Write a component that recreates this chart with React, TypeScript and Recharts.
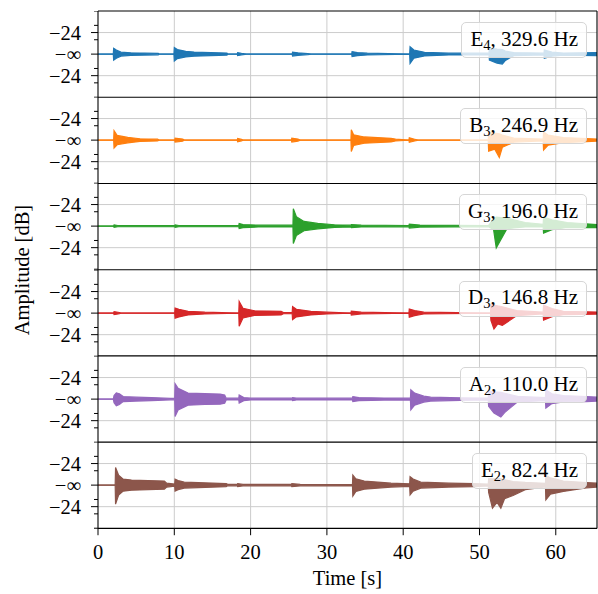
import React from 'react';
import { AreaChart, Area, XAxis, YAxis, CartesianGrid } from 'recharts';

// each point: [time s, upper envelope dB, lower envelope dB]
type Pt = [number, number, number];

const E4: Pt[] = [
  [0, -48, -48], [2.0, -48, -48], [2.05, -41.6, -41.3], [2.4, -43.5, -43.5], [3.0, -45.8, -45.8],
  [4.3, -46.6, -46.6], [7.9, -47.2, -47.2], [8.0, -48, -48], [9.95, -48, -48], [10.0, -40.8, -40.3],
  [10.4, -43, -43], [11.5, -44.9, -44.9], [12.6, -45.7, -45.7], [16.9, -46.9, -46.9], [17.0, -48, -48],
  [18.25, -48, -48], [18.3, -46.3, -46.3], [18.8, -47.2, -47.2], [19.5, -48, -48], [25.45, -48, -48],
  [25.5, -45.8, -45.8], [26.2, -46.6, -46.6], [27.5, -47.5, -47.5], [28, -48, -48], [33.25, -48, -48],
  [33.3, -45.2, -45.2], [34.0, -46.3, -46.3], [35.3, -47, -47], [40.85, -48, -48], [40.9, -39.9, -37.6],
  [41.4, -43.5, -43.5], [42.8, -46, -46], [46, -47, -47], [51.25, -47, -47], [51.3, -41.3, -41.3],
  [52.3, -42.4, -38.0], [53.0, -43, -36.9], [53.4, -44.7, -41], [54.5, -46.3, -46.3], [58.45, -47, -47],
  [58.5, -43.5, -43.5], [59.5, -45.8, -45.8], [61, -46.9, -46.9], [65.4, -46.3, -46.3],
];

const B3: Pt[] = [
  [0, -48, -48], [2.05, -48, -48], [2.1, -37.6, -39.1], [2.5, -42.8, -42.8], [3.9, -45, -45],
  [5.5, -46.5, -46.5], [7.8, -47, -47], [8, -48, -48], [10.05, -48, -48], [10.1, -45.8, -45.8],
  [11.1, -46.9, -46.9], [11.3, -48, -48], [18.25, -48, -48], [18.3, -46.1, -46.1], [18.8, -47.2, -47.2],
  [19, -48, -48], [25.35, -48, -48], [25.4, -45.8, -45.8], [26.2, -46.9, -46.9], [26.5, -48, -48],
  [33.15, -48, -48], [33.2, -36.5, -35.4], [33.5, -42, -42], [34.9, -44.5, -44.5], [38.4, -46, -46],
  [39, -47, -47], [40.75, -48, -48], [40.8, -45.5, -45.5], [41.5, -47, -47], [42, -48, -48],
  [51.15, -48, -48], [51.2, -39.1, -35.7], [52.0, -40.2, -38], [52.6, -41, -28.7], [53.0, -42.4, -40],
  [54.5, -45.8, -45.8], [58.35, -47, -47], [58.4, -39.1, -36.9], [59, -42.4, -42.4], [61, -45.2, -45.2],
  [64, -46.3, -46.3], [65.4, -46.9, -46.9],
];

const G3: Pt[] = [
  [0, -48, -48], [2.05, -48, -48], [2.1, -46.6, -46.6], [2.6, -47.3, -47.3], [10.05, -47.3, -47.3],
  [10.1, -46.6, -46.6], [10.6, -47.3, -47.3], [18.45, -47.3, -47.3], [18.5, -45.2, -45.2], [19.0, -46.3, -46.3],
  [21, -47, -47], [25.55, -47, -47], [25.6, -28.7, -28.7], [26.0, -37.5, -37.5], [27.0, -42.8, -42.8],
  [28.8, -45, -45], [31.0, -46.5, -46.5], [33.15, -47, -47], [33.2, -46.3, -46.3], [34.5, -47, -47],
  [40.75, -47.3, -47.3], [40.8, -45.8, -45.8], [42.2, -46.9, -46.9], [51.2, -47.3, -47.3], [51.85, -40, -44],
  [52.2, -38, -23.8], [53.6, -39, -45], [54.5, -41, -46], [56, -44, -47], [58.35, -46, -47],
  [58.4, -38, -40.2], [59.5, -41, -44], [61.5, -44, -46.5], [65.4, -46.3, -46.3],
];

const D3: Pt[] = [
  [0, -48, -48], [2.05, -48, -48], [2.1, -46.3, -46.3], [2.8, -47.3, -47.3], [3, -48, -48],
  [10.05, -48, -48], [10.1, -42.4, -42.4], [10.6, -43.8, -43.8], [11.8, -46, -46], [14, -47, -47],
  [18.45, -48, -48], [18.5, -35, -33.5], [19.0, -42.6, -42.6], [20.5, -45.4, -45.4], [24.0, -46, -46],
  [24.3, -47.3, -47.3], [25.45, -47.3, -47.3], [25.5, -40.8, -40.8], [26.0, -43.8, -43.8], [27.9, -46, -46],
  [30, -47, -47], [33.15, -48, -48], [33.2, -45.8, -45.8], [34.5, -47, -47], [40.75, -48, -48],
  [40.8, -43.5, -43.5], [41.5, -45.2, -45.2], [42.7, -47, -47], [51.45, -48, -48], [51.5, -38, -40],
  [51.9, -39, -30.2], [52.4, -40, -36], [53.0, -41, -34.3], [54.9, -45.2, -45.2], [58.35, -47, -47],
  [58.4, -39.1, -40.2], [59.5, -43, -44], [61, -46, -46.3], [65.4, -46.9, -46.9],
];

const A2: Pt[] = [
  [0, -48, -48], [2.0, -48, -48], [2.1, -44, -44], [2.4, -41, -40.5], [2.8, -42, -42],
  [3.3, -45.2, -45.2], [5, -45.8, -45.8], [7, -46.3, -46.3], [9.5, -47.2, -47.2], [10.05, -47.2, -47.2],
  [10.1, -30.9, -28.7], [10.5, -36, -36], [11.8, -41.3, -41.3], [14, -42, -42], [16.0, -42.4, -42.4],
  [16.6, -43.5, -43.5], [16.8, -47, -47], [18.45, -47, -47], [18.5, -43.5, -43.5], [19.1, -46.3, -46.3],
  [20, -47, -47], [25.45, -47, -47], [25.5, -46.3, -46.3], [26, -47, -47], [33.35, -47, -47],
  [33.4, -45.2, -45.2], [34.2, -46.3, -46.3], [37.5, -46.9, -46.9], [40.95, -47, -47], [41.0, -37.6, -36.1],
  [41.5, -41.3, -41.3], [42.7, -44.7, -44.7], [43.6, -45.8, -45.8], [47.5, -46.6, -46.6], [51.15, -47, -47],
  [51.2, -39, -40], [51.9, -40, -32.4], [52.8, -40.5, -28], [53.3, -41.5, -33], [54.0, -43, -38],
  [55, -45, -45], [58.65, -46.3, -46.3], [58.7, -37.6, -38], [59.5, -42, -43], [61, -44, -45],
  [64, -45.2, -45.2], [65.4, -45.8, -45.8],
];

const E2: Pt[] = [
  [0, -48, -48], [2.25, -48, -48], [2.3, -28.3, -26.8], [2.7, -37, -37], [3.3, -41.3, -41.3],
  [4.4, -42.4, -42.4], [8.7, -43.5, -43.5], [9, -45.8, -45.8], [10.05, -46.9, -46.9], [10.1, -41.3, -41.3],
  [10.5, -43, -43], [11.3, -44.7, -44.7], [16.8, -46.3, -46.3], [17, -47.2, -47.2], [18.25, -47.2, -47.2],
  [18.3, -46.3, -46.3], [19, -47.2, -47.2], [25.35, -47.2, -47.2], [25.4, -46.3, -46.3], [26.5, -47.2, -47.2],
  [33.35, -47.5, -47.5], [33.4, -36.9, -35.7], [33.8, -41, -41], [34.9, -43.5, -43.5], [38.4, -45.8, -45.8],
  [40.85, -46.6, -46.6], [40.9, -38.7, -37.2], [41.3, -41.3, -41.3], [42.3, -44.7, -44.7], [46, -45.8, -45.8],
  [49.3, -46.3, -46.3], [51.15, -47, -47], [51.2, -41, -40], [51.7, -41, -22.4], [52.3, -41, -28.7],
  [52.8, -41, -22.4], [53.3, -42, -33], [54.4, -44, -36.5], [56, -45, -43], [58.65, -46, -46],
  [58.7, -37, -31.6], [59.3, -40, -38], [61, -43.5, -41], [64, -45.2, -45], [65.4, -45.8, -45.8],
];

const strings = [
  { note: 'E', octave: '4', freq: '329.6', color: '#1f77b4', pts: E4 },
  { note: 'B', octave: '3', freq: '246.9', color: '#ff7f0e', pts: B3 },
  { note: 'G', octave: '3', freq: '196.0', color: '#2ca02c', pts: G3 },
  { note: 'D', octave: '3', freq: '146.8', color: '#d62728', pts: D3 },
  { note: 'A', octave: '2', freq: '110.0', color: '#9467bd', pts: A2 },
  { note: 'E', octave: '2', freq: '82.4', color: '#8c564b', pts: E2 },
];

const xTicks = [0, 10, 20, 30, 40, 50, 60];
const X_MAX = 65.4;
const FLOOR_DB = -48; // centre of each panel is -inf dB
const yMajor = [-0.5, 0, 0.5];
const yMajorLabels = ['−24', '−∞', '−24'];
const yMinor = [-1, -2 / 3, -1 / 3, 1 / 3, 2 / 3, 1];

const FONT = '"Liberation Serif", "Times New Roman", serif';
const W = 598;
const TOP = 11;
const PANEL_H = 86.23;
const LEFT = 98;
const RIGHT = 597;

// signed dB scale: 0 at the floor, +-1 at 0 dB
const lvl = (db: number) => Math.max(0, (db - FLOOR_DB) / -FLOOR_DB);

const YTick = (props: any) => {
  const { y, payload } = props;
  const i = yMajor.indexOf(payload.value);
  const len = i >= 0 ? 7 : 4;
  return (
    <g>
      <line x1={LEFT - len} x2={LEFT} y1={y} y2={y} stroke="#000" strokeWidth={1} />
      {i >= 0 && (
        <text x={LEFT - 17} y={y} dy="0.36em" textAnchor="end" fontSize={20.5} fontFamily={FONT} fill="#000">
          {yMajorLabels[i]}
        </text>
      )}
    </g>
  );
};

const App = () => {
  const n = strings.length;
  return (
    <div style={{ position: 'absolute', left: 0, top: 0, width: W, height: 594, background: '#fff', fontFamily: FONT }}>
      {strings.map((s, k) => {
        const data = s.pts.map(([t, up, down]) => ({ t, hi: lvl(up), lo: -lvl(down) }));
        const last = k === n - 1;
        return (
          <div key={k} style={{ position: 'absolute', left: 0, top: TOP + k * PANEL_H }}>
            <AreaChart
              width={W}
              height={PANEL_H + (last ? 66 : 0)}
              data={data}
              margin={{ top: 0, right: W - RIGHT, bottom: 0, left: 0 }}
            >
              <CartesianGrid
                stroke="#cccccc"
                strokeWidth={1}
                horizontalValues={[-0.5, 0.5]}
                verticalValues={xTicks.slice(1)}
              />
              <XAxis
                type="number"
                dataKey="t"
                domain={[0, X_MAX]}
                ticks={xTicks}
                allowDataOverflow
                hide={!last}
                height={66}
                axisLine={false}
                tickSize={7}
                tickMargin={9}
                tickLine={{ stroke: '#000' }}
                tick={{ fill: '#000', fontSize: 20.5, fontFamily: FONT }}
              />
              <YAxis
                type="number"
                domain={[-1, 1]}
                ticks={[...yMinor, ...yMajor].sort((a, b) => a - b)}
                interval={0}
                width={LEFT}
                axisLine={false}
                tickLine={false}
                tick={<YTick />}
                allowDataOverflow
              />
              <Area
                dataKey="hi"
                type="linear"
                stroke={s.color}
                strokeWidth={1.2}
                fill={s.color}
                fillOpacity={1}
                dot={false}
                activeDot={false}
                isAnimationActive={false}
              />
              <Area
                dataKey="lo"
                type="linear"
                stroke={s.color}
                strokeWidth={1.2}
                fill={s.color}
                fillOpacity={1}
                dot={false}
                activeDot={false}
                isAnimationActive={false}
              />
            </AreaChart>
          </div>
        );
      })}

      <svg width={W} height={594} style={{ position: 'absolute', left: 0, top: 0, pointerEvents: 'none' }}>
        <line x1={LEFT} x2={LEFT} y1={TOP} y2={TOP + n * PANEL_H} stroke="#000" strokeWidth={1.1} />
        <line x1={RIGHT} x2={RIGHT} y1={TOP} y2={TOP + n * PANEL_H} stroke="#000" strokeWidth={1.1} />
        {Array.from({ length: n + 1 }, (_, k) => (
          <line key={k} x1={LEFT} x2={RIGHT} y1={TOP + k * PANEL_H} y2={TOP + k * PANEL_H} stroke="#000" strokeWidth={1.1} />
        ))}
      </svg>

      {strings.map((s, k) => (
        <div
          key={'lg' + k}
          style={{
            position: 'absolute',
            right: W - 587,
            top: TOP + k * PANEL_H + 11,
            height: 36,
            padding: '0 8px',
            boxSizing: 'border-box',
            display: 'flex',
            alignItems: 'center',
            background: 'rgba(255,255,255,0.8)',
            border: '1px solid #d6d6d6',
            borderRadius: 5,
            fontSize: 21,
            color: '#000',
            whiteSpace: 'nowrap',
          }}
        >
          <span>
            {s.note}
            <sub style={{ fontSize: 14.5, verticalAlign: '-0.25em' }}>{s.octave}</sub>, {s.freq} Hz
          </span>
        </div>
      ))}

      <div style={{ position: 'absolute', left: LEFT, width: RIGHT - LEFT, top: 567, textAlign: 'center', fontSize: 20.5 }}>
        Time [s]
      </div>
      <div
        style={{
          position: 'absolute',
          left: 22,
          top: TOP + (n * PANEL_H) / 2,
          transform: 'translate(-50%, -50%) rotate(-90deg)',
          fontSize: 20.5,
          whiteSpace: 'nowrap',
        }}
      >
        Amplitude [dB]
      </div>
    </div>
  );
};

export default App;
